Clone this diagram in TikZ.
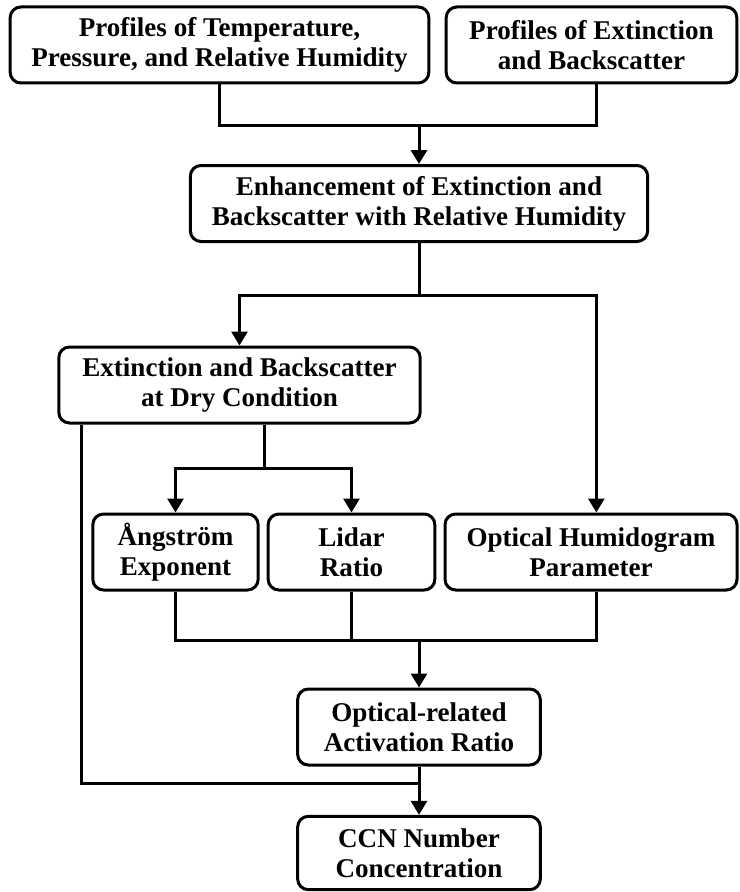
\documentclass[tikz,border=0pt]{standalone}
\usepackage{fontspec}
\setmainfont{Liberation Serif}
\usetikzlibrary{arrows.meta}
\begin{document}
\begin{tikzpicture}
    [x=0.75pt, y=-0.75pt,
    line width=2.25pt,
    every node/.style={draw=black, rounded corners=8pt, align=center,
      inner sep=0pt, minimum height=57pt,
      font=\bfseries\fontsize{20.3}{22.5}\selectfont},
    arr/.style={-{Triangle[length=10.5pt,width=12pt]}},
    ]
    \useasboundingbox (0,0) rectangle (739,892);
    % inputs
    \node[minimum width=314pt] (tprh) at (219.5,45) {Profiles of Temperature,\\Pressure, and Relative Humidity};
    \node[minimum width=218pt] (extbsc) at (591.5,45) {Profiles of Extinction\\and Backscatter};
    \node[minimum width=343pt] (enh) at (419,203.5) {Enhancement of Extinction and\\Backscatter with Relative Humidity};
    \node[minimum width=271pt] (dry) at (239.5,385) {Extinction and Backscatter\\at Dry Condition};
    % optical parameters
    \node[minimum width=124pt] (ae) at (175.5,552) {Ångström\\Exponent};
    \node[minimum width=125pt] (lr) at (351.5,552) {Lidar\\Ratio};
    \node[minimum width=219pt] (ohp) at (591,552) {Optical Humidogram\\Parameter};
    \node[minimum width=182pt] (oar) at (419,727) {Optical-related\\Activation Ratio};
    \node[minimum width=182pt, minimum height=55pt] (ccn) at (419,853) {CCN Number\\Concentration};
    % joints
    \coordinate (j1) at (419,125);
    \coordinate (j2) at (419,295);
    \coordinate (j3) at (264,468);
    \coordinate (j4) at (419,640);
    \coordinate (j5) at (419,783);
    \draw (tprh.south) |- (j1) -| ([xshift=4pt]extbsc.south);
    \draw[arr] (j1) -- (enh);
    \draw (enh) -- (j2);
    \draw[arr] (j2) -| (dry.north);
    \draw[arr] (j2) -| ([xshift=4pt]ohp.north);
    \draw (dry.south -| j3) -- (j3);
    \draw[arr] (j3) -| (ae.north);
    \draw[arr] (j3) -| (lr.north);
    \draw (ae.south) |- (j4) -| ([xshift=4pt]ohp.south);
    \draw (lr.south) -- (lr.south |- j4);
    \draw[arr] (j4) -- (oar);
    \draw ([xshift=18pt]dry.south west) |- (j5);
    \draw[arr] (oar) -- (ccn);
\end{tikzpicture}
\end{document}
